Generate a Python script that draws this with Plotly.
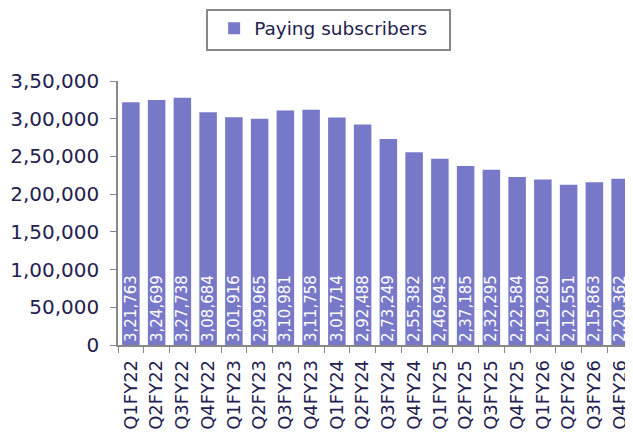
import plotly.graph_objects as go

quarters = ["Q1FY22","Q2FY22","Q3FY22","Q4FY22","Q1FY23","Q2FY23","Q3FY23","Q4FY23",
            "Q1FY24","Q2FY24","Q3FY24","Q4FY24","Q1FY25","Q2FY25","Q3FY25","Q4FY25",
            "Q1FY26","Q2FY26","Q3FY26","Q4FY26"]
subscribers = [321763,324699,327738,308684,301916,299965,310981,311758,
               301714,292488,273249,255382,246943,237185,232295,222584,
               219280,212551,215863,220362]
value_labels = ["3,21,763","3,24,699","3,27,738","3,08,684","3,01,916","2,99,965","3,10,981","3,11,758",
                "3,01,714","2,92,488","2,73,249","2,55,382","2,46,943","2,37,185","2,32,295","2,22,584",
                "2,19,280","2,12,551","2,15,863","2,20,362"]
y_tickvals = [0,50000,100000,150000,200000,250000,300000,350000]
y_ticktext = ["0","50,000","1,00,000","1,50,000","2,00,000","2,50,000","3,00,000","3,50,000"]

TXT = "#23204f"
BAR = "#7878c8"
FONT = "DejaVu Sans, sans-serif"

fig = go.Figure(go.Bar(
    x=quarters, y=subscribers, name="Paying subscribers",
    marker=dict(color=BAR, line=dict(width=0)),
    text=value_labels, textposition="inside", insidetextanchor="start",
    textangle=-90, textfont=dict(color="white", size=15, family=FONT),
    cliponaxis=False,
))

# page body adds an 8px offset; figure is sized to compensate
fig.update_layout(
    width=625, height=431,
    margin=dict(l=110, r=0, t=73, b=94),
    paper_bgcolor="white", plot_bgcolor="white",
    font=dict(family=FONT, color=TXT),
    bargap=0.32,
    showlegend=True,
    legend=dict(
        orientation="h", xref="container", yref="container",
        x=0.505, xanchor="center", y=0.952, yanchor="middle",
        borderwidth=0, bgcolor="rgba(0,0,0,0)",
        font=dict(size=18.5, color=TXT, family=FONT),
    ),
    shapes=[dict(type="rect", xref="paper", yref="paper",
                 x0=0.1728, x1=0.6447, y0=1.117, y1=1.269,
                 line=dict(color="#888888", width=2), fillcolor="rgba(0,0,0,0)", layer="below")],
    uniformtext=dict(mode="show", minsize=15),
)
fig.update_xaxes(
    type="category", tickangle=-90, tickfont=dict(size=18, color=TXT),
    showline=True, linecolor="#888888", linewidth=1.5,
    ticks="outside", tickson="boundaries", ticklen=6, tickcolor="#888888",
    showgrid=False, ticklabelstandoff=6,
)
fig.update_yaxes(
    range=[0, 350000], tickvals=y_tickvals, ticktext=y_ticktext,
    tickfont=dict(size=20, color=TXT),
    showline=True, linecolor="#888888", linewidth=1.5,
    ticks="outside", ticklen=6, tickcolor="#888888",
    showgrid=False, zeroline=False, ticklabelstandoff=7,
)

fig.write_html("out.html")
